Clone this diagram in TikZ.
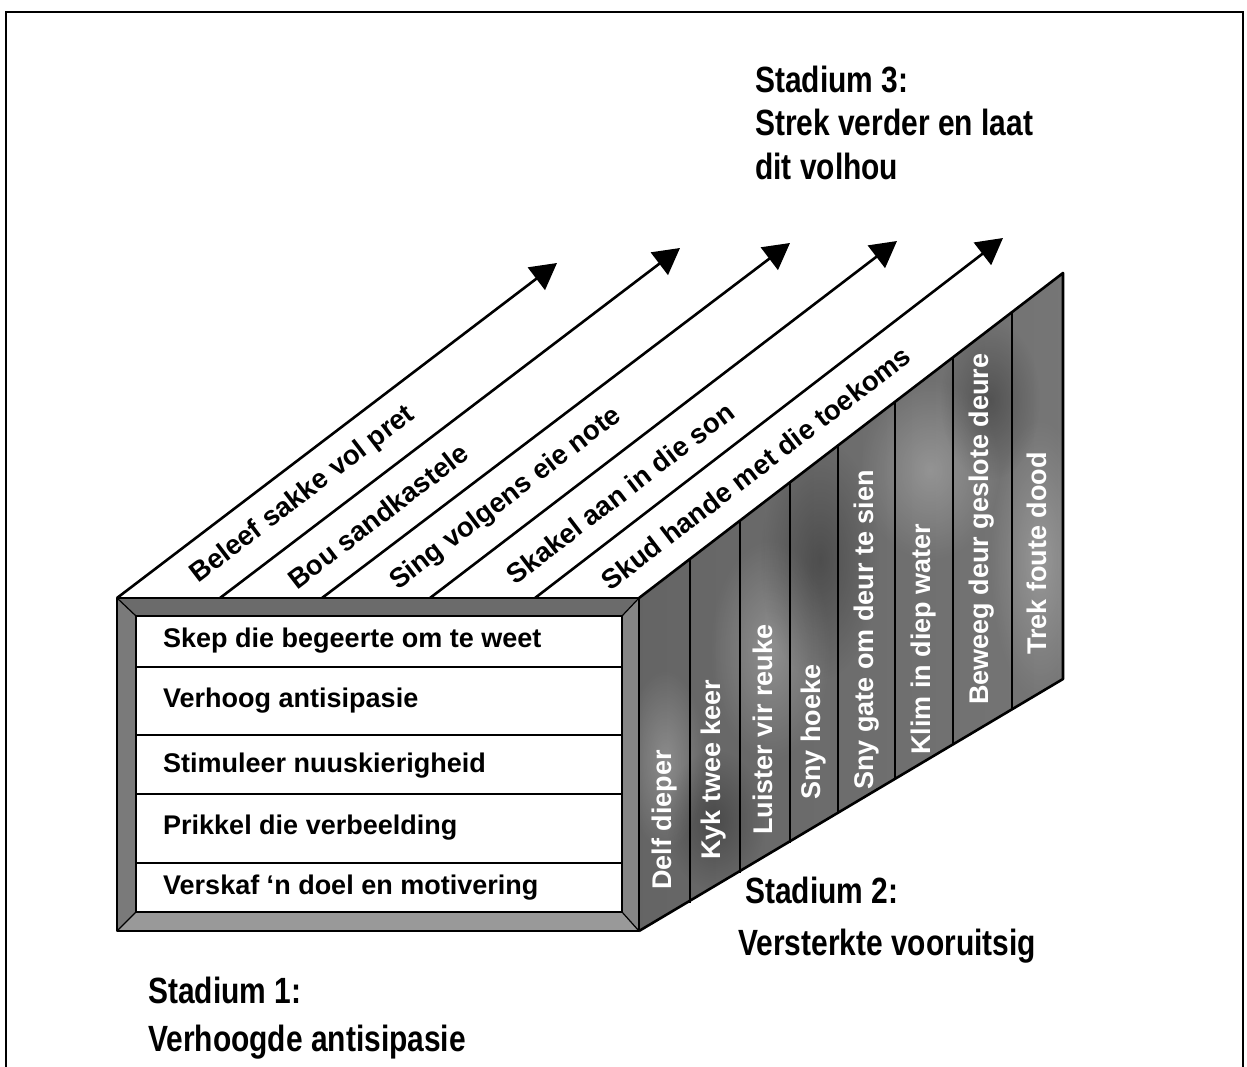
\documentclass[tikz,border=0pt]{standalone}
\usepackage{fontspec}
\setmainfont{Liberation Sans}
\newfontfamily\condfont[FakeStretch=0.82]{Liberation Sans}
\usetikzlibrary{arrows.meta,fadings}
\tikzfading[name=softblob, inner color=transparent!0, outer color=transparent!100]

\begin{document}
\begin{tikzpicture}[x=1pt,y=-1pt,
  edge/.style={line width=2.6pt, line join=round},
  flow/.style={line width=2.6pt, -{Triangle[length=26pt,width=28pt]}},
  rowtext/.style={font={\fontsize{27}{30}\selectfont\bfseries}, anchor=west, inner sep=0pt},
  striptext/.style={font={\fontsize{27.5}{30}\selectfont\bfseries}, rotate=37.4, inner sep=0pt},
  coltext/.style={font={\fontsize{27}{30}\selectfont\bfseries}, text=white, rotate=90, anchor=west, inner sep=0pt},
  stage/.style={font={\condfont\fontsize{36.5}{40}\selectfont\bfseries}, anchor=base west, inner sep=0pt},
  lightpatch/.style={white, opacity=0.25, path fading=softblob},
  darkpatch/.style={black, opacity=0.28, path fading=softblob},
]
\useasboundingbox (0,0) rectangle (1247,1067);
\fill[white] (0,0) rectangle (1247,1067);

% surrounding frame, open at the bottom
\draw[line width=2pt] (6,1067) -- (6,12) -- (1243,12) -- (1243,1067);

% ---- side face (stage 2), mottled grey ----
\begin{scope}
  \clip (639,598) -- (1063,273) -- (1063,679) -- (639,931) -- cycle;
  \shade[left color={rgb,255:red,100;green,100;blue,100},
         middle color={rgb,255:red,82;green,82;blue,82},
         right color={rgb,255:red,118;green,118;blue,118}]
    (630,260) rectangle (1070,940);
  \fill[lightpatch] (770,650) ellipse (60 and 110);
  \fill[lightpatch] (930,470) ellipse (70 and 90);
  \fill[lightpatch] (1040,560) ellipse (50 and 140);
  \fill[lightpatch] (665,760) ellipse (40 and 90);
  \fill[darkpatch] (820,560) ellipse (60 and 120);
  \fill[darkpatch] (715,820) ellipse (50 and 70);
  \fill[darkpatch] (990,400) ellipse (50 and 80);
\end{scope}
\foreach \xx in {690,740,790,838,895,953,1012}
  \draw[line width=2pt] (\xx,{598-0.7665*(\xx-639)}) -- (\xx,{931-0.6*(\xx-643)});
\draw[edge] (639,598) -- (1063,273) -- (1063,679) -- (639,931);

\node[coltext] (c1) at (665,890) {Delf dieper};
\node[coltext] (c2) at (714,860) {Kyk twee keer};
\node[coltext] (c3) at (763,835) {Luister vir reuke};
\node[coltext] (c4) at (814,800) {Sny hoeke};
\node[coltext] (c5) at (867,790) {Sny gate om deur te sien};
\node[coltext] (c6) at (924,755) {Klim in diep water};
\node[coltext] (c7) at (982,705) {Beweeg deur geslote deure};
\node[coltext] (c8) at (1037,655) {Trek foute dood};

% ---- top face (stage 3): strips running into arrows ----
\coordinate (s1) at (117,598); \coordinate (t1) at (557,263);
\coordinate (s2) at (220,598); \coordinate (t2) at (680,248);
\coordinate (s3) at (322,598); \coordinate (t3) at (790,243);
\coordinate (s4) at (430,598); \coordinate (t4) at (897,241);
\coordinate (s5) at (535,598); \coordinate (t5) at (1003,238);
\foreach \i in {1,...,5} \draw[flow] (s\i) -- (t\i);

\node[striptext] (p1) at (303,495) {Beleef sakke vol pret};
\node[striptext] (p2) at (378,516) {Bou sandkastele};
\node[striptext] (p3) at (506,499) {Sing volgens eie note};
\node[striptext] (p4) at (620,493) {Skakel aan in die son};
\node[striptext] (p5) at (756,468) {Skud hande met die toekoms};

% ---- front face (stage 1): bevelled frame ----
\fill[black!58] (117,598) -- (639,598) -- (622,616) -- (136,616) -- cycle;
\fill[black!52] (117,598) -- (136,616) -- (136,912) -- (117,931) -- cycle;
\fill[black!40] (117,931) -- (136,912) -- (622,912) -- (639,931) -- cycle;
\fill[black!48] (639,598) -- (622,616) -- (622,912) -- (639,931) -- cycle;
\draw[line width=1.2pt] (117,598) -- (136,616) (639,598) -- (622,616)
  (117,931) -- (136,912) (639,931) -- (622,912);
\fill[white] (136,616) rectangle (622,912);
\draw[line width=2pt] (136,616) rectangle (622,912);
\draw[edge] (117,598) rectangle (639,931);
\foreach \yy in {667,735,794,863}
  \draw[line width=2pt] (136,\yy) -- (622,\yy);

\node[rowtext] (r1) at (163,641) {Skep die begeerte om te weet};
\node[rowtext] (r2) at (163,701) {Verhoog antisipasie};
\node[rowtext] (r3) at (163,766) {Stimuleer nuuskierigheid};
\node[rowtext] (r4) at (163,828) {Prikkel die verbeelding};
\node[rowtext] (r5) at (163,888) {Verskaf ‘n doel en motivering};

% ---- stage captions ----
\node[stage] (st3a) at (755,93) {Stadium 3:};
\node[stage] (st3b) at (755,136) {Strek verder en laat};
\node[stage] (st3c) at (755,180) {dit volhou};
\node[stage] (st2a) at (745,903) {Stadium 2:};
\node[stage] (st2b) at (738,955) {Versterkte vooruitsig};
\node[stage] (st1a) at (148,1003) {Stadium 1:};
\node[stage] (st1b) at (148,1051) {Verhoogde antisipasie};
\end{tikzpicture}
\end{document}
